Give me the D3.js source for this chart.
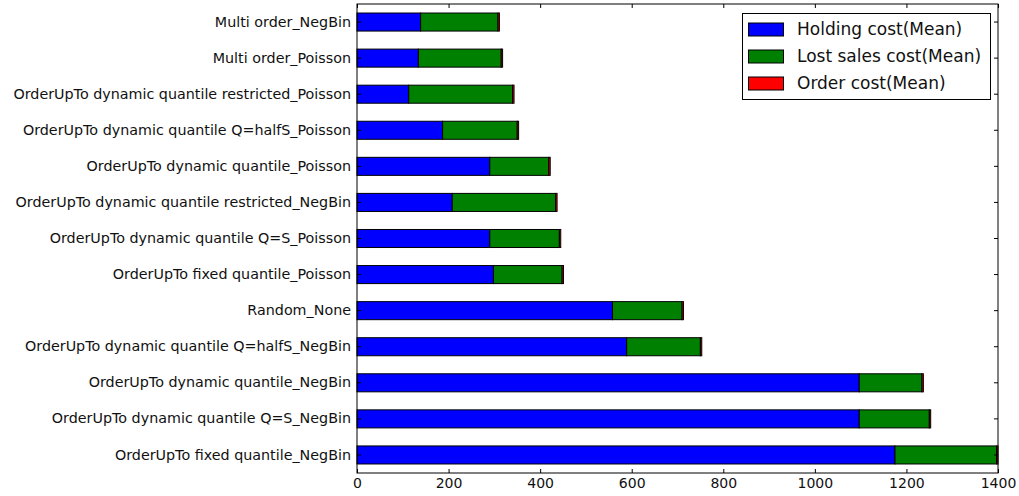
<!DOCTYPE html>
<html>
<head>
<meta charset="utf-8">
<script src="https://cdn.jsdelivr.net/npm/d3@7/dist/d3.min.js"></script>
<style>
  html, body { margin: 0; padding: 0; background: #fff; }
  svg { display: block; }
  text { font-family: "DejaVu Sans", sans-serif; fill: #111; }
</style>
</head>
<body>
<svg id="chart" width="1019" height="496"></svg>
<script>
// Strategies, listed top to bottom
const categories = [
  "Multi order_NegBin",
  "Multi order_Poisson",
  "OrderUpTo dynamic quantile restricted_Poisson",
  "OrderUpTo dynamic quantile Q=halfS_Poisson",
  "OrderUpTo dynamic quantile_Poisson",
  "OrderUpTo dynamic quantile restricted_NegBin",
  "OrderUpTo dynamic quantile Q=S_Poisson",
  "OrderUpTo fixed quantile_Poisson",
  "Random_None",
  "OrderUpTo dynamic quantile Q=halfS_NegBin",
  "OrderUpTo dynamic quantile_NegBin",
  "OrderUpTo dynamic quantile Q=S_NegBin",
  "OrderUpTo fixed quantile_NegBin"
];
const holdingCost   = [139, 134, 113, 187, 290, 208, 290, 298, 558, 589, 1097, 1097, 1175];
const lostSalesCost = [169, 181, 227, 163, 129, 226, 152, 150, 152, 161, 137, 153, 222];
const orderCost     = [3, 3, 3, 3, 3, 3, 3, 3, 3, 3, 3, 3, 3];

const seriesNames  = ["Holding cost(Mean)", "Lost sales cost(Mean)", "Order cost(Mean)"];
const seriesColors = ["#0000ff", "#008000", "#ff0000"];
const xTicks = [0, 200, 400, 600, 800, 1000, 1200, 1400];

const rows = categories.map((c, i) => ({
  name: c,
  [seriesNames[0]]: holdingCost[i],
  [seriesNames[1]]: lostSalesCost[i],
  [seriesNames[2]]: orderCost[i]
}));

const svg = d3.select("#chart");
const plotLeft = 357, plotRight = 998, plotTop = 4, plotBottom = 473;

const x = d3.scaleLinear().domain([0, 1400]).range([plotLeft, plotRight]);
const y = d3.scaleBand().domain(categories).range([plotTop, plotBottom])
  .paddingInner(0.5).paddingOuter(0.25);

const stacked = d3.stack().keys(seriesNames)(rows);

svg.append("g")
  .selectAll("g")
  .data(stacked)
  .join("g")
  .attr("fill", (d, i) => seriesColors[i])
  .selectAll("rect")
  .data(d => d)
  .join("rect")
  .attr("x", d => x(d[0]))
  .attr("y", d => y(d.data.name))
  .attr("width", d => x(d[1]) - x(d[0]))
  .attr("height", y.bandwidth())
  .attr("stroke", "#000")
  .attr("stroke-width", 1);

// Axes with inward ticks on all four sides
const tickLen = 4;
const xb = svg.append("g").attr("transform", `translate(0,${plotBottom})`)
  .call(d3.axisBottom(x).tickValues(xTicks).tickSize(-tickLen).tickPadding(5).tickFormat(d3.format("d")));
const xt = svg.append("g").attr("transform", `translate(0,${plotTop})`)
  .call(d3.axisTop(x).tickValues(xTicks).tickSize(-tickLen).tickFormat(""));
const yl = svg.append("g").attr("transform", `translate(${plotLeft},0)`)
  .call(d3.axisLeft(y).tickSize(-tickLen).tickPadding(6));
const yr = svg.append("g").attr("transform", `translate(${plotRight},0)`)
  .call(d3.axisRight(y).tickSize(-tickLen).tickFormat(""));

[xb, xt, yl, yr].forEach(g => {
  g.select(".domain").remove();
  g.selectAll(".tick line").attr("stroke", "#000");
  g.selectAll("text").attr("fill", "#111");
});
xb.selectAll("text").style("font-size", "14px");
yl.selectAll("text").style("font-size", "14.3px");

// Plot frame
svg.append("rect")
  .attr("x", plotLeft).attr("y", plotTop)
  .attr("width", plotRight - plotLeft).attr("height", plotBottom - plotTop)
  .attr("fill", "none").attr("stroke", "#000").attr("stroke-width", 1);

// Legend
const legend = svg.append("g");
legend.append("rect")
  .attr("x", 742.5).attr("y", 13.5).attr("width", 248).attr("height", 86)
  .attr("fill", "#fff").attr("stroke", "#000");
seriesNames.forEach((s, i) => {
  const cy = 29.5 + i * 27;
  legend.append("rect")
    .attr("x", 748.5).attr("y", cy - 6.5).attr("width", 35).attr("height", 13)
    .attr("fill", seriesColors[i]).attr("stroke", "#000");
  legend.append("text")
    .attr("x", 797).attr("y", cy).attr("dy", "0.35em")
    .style("font-size", "17px").text(s);
});
</script>
</body>
</html>
